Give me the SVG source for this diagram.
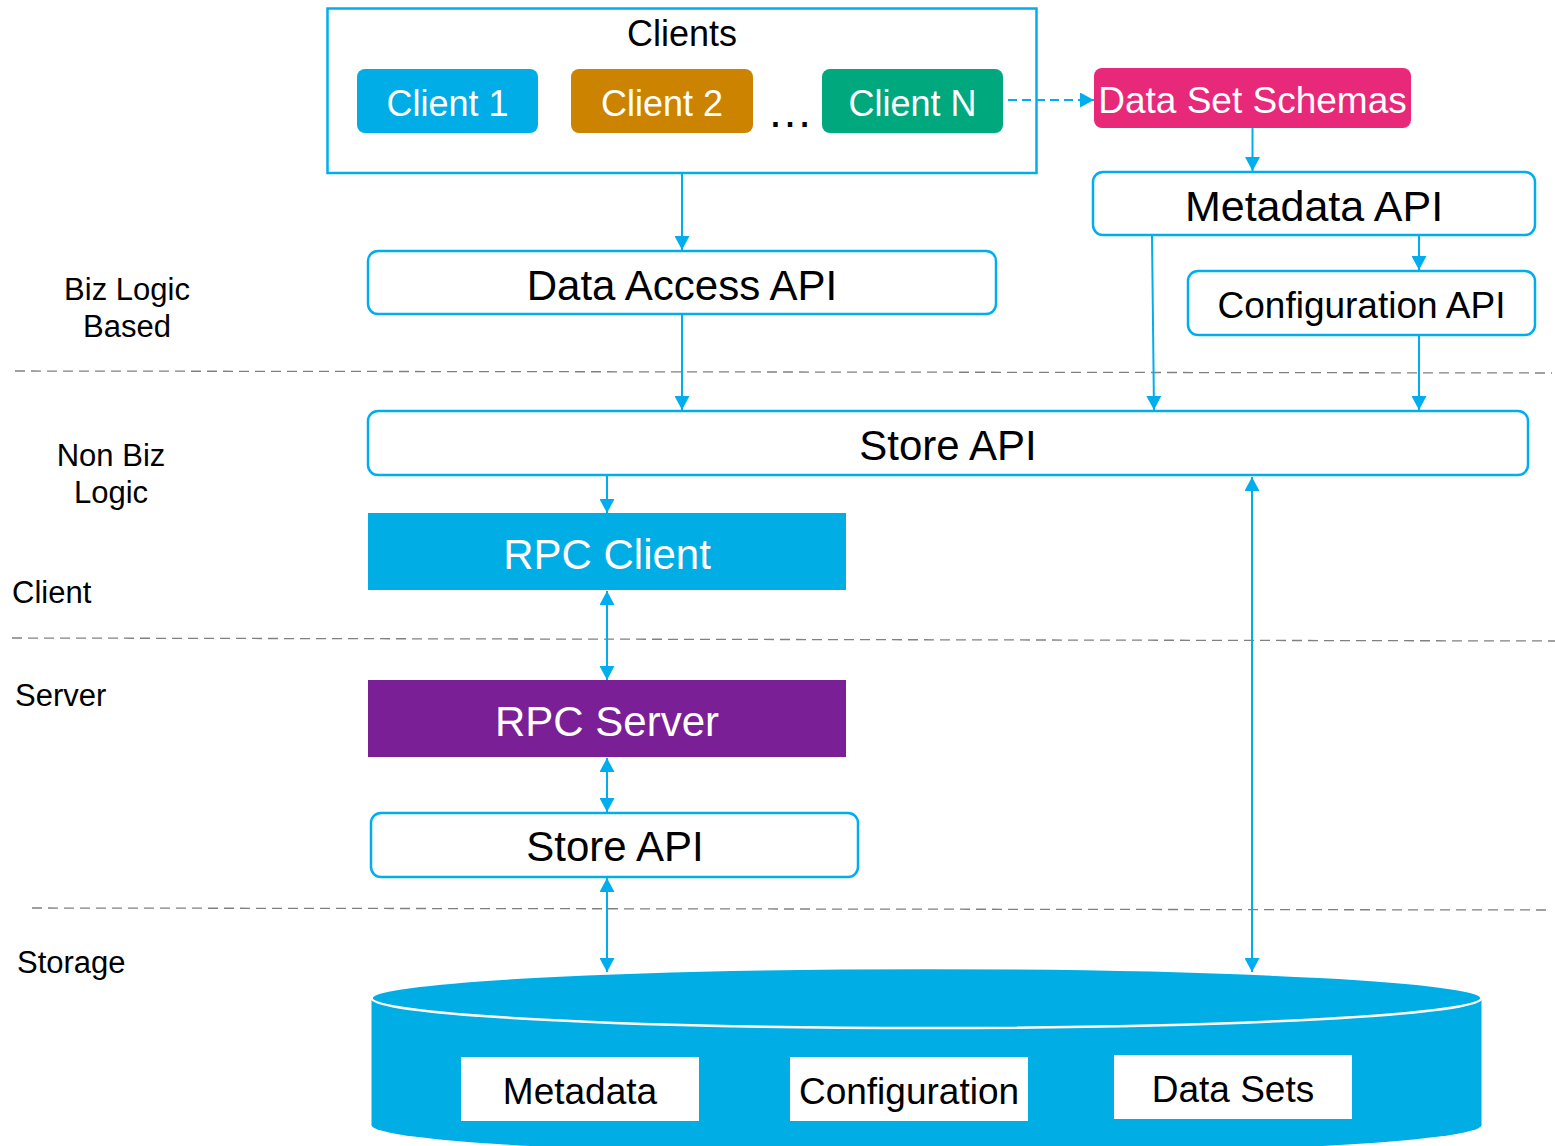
<svg xmlns="http://www.w3.org/2000/svg" width="1555" height="1146" viewBox="0 0 1555 1146">
  <style>
    text { font-family: "Liberation Sans", Arial, sans-serif; }
    .lbl { font-size: 31px; fill: #000; }
    .api { fill: #fff; stroke: #00AEEF; stroke-width: 2.5; }
    .api-t { font-size: 42px; fill: #000; text-anchor: middle; }
    .chip-t { font-size: 36px; fill: #fff; text-anchor: middle; }
    .bar-t { font-size: 42px; fill: #fff; text-anchor: middle; }
    .sep { stroke: #808080; stroke-width: 1.3; stroke-dasharray: 10 6; fill: none; }
    .link { stroke: #00AEEF; stroke-width: 2; fill: none; }
    .one { marker-end: url(#arrow); }
    .two { marker-start: url(#arrow); marker-end: url(#arrow); }
    .dash { stroke-dasharray: 9 5; }
    .store-t { font-size: 37px; fill: #000; text-anchor: middle; }
  </style>
  <defs>
    <marker id="arrow" viewBox="0 0 14 15" refX="14" refY="7.5" markerWidth="14" markerHeight="15" markerUnits="userSpaceOnUse" orient="auto-start-reverse">
      <path d="M0,0 L14,7.5 L0,15 Z" fill="#00AEEF"/>
    </marker>
  </defs>

  <rect width="1555" height="1146" fill="#fff"/>

  <!-- layer separators -->
  <g id="separators">
    <line class="sep" x1="15" y1="371" x2="1552" y2="373"/>
    <line class="sep" x1="12" y1="638" x2="1555" y2="641"/>
    <line class="sep" x1="32" y1="908" x2="1552" y2="910"/>
  </g>

  <!-- layer labels -->
  <g id="layer-labels">
    <text class="lbl" x="127" y="300" text-anchor="middle">Biz Logic</text>
    <text class="lbl" x="127" y="337" text-anchor="middle">Based</text>
    <text class="lbl" x="111" y="466" text-anchor="middle">Non Biz</text>
    <text class="lbl" x="111" y="503" text-anchor="middle">Logic</text>
    <text class="lbl" x="12" y="603">Client</text>
    <text class="lbl" x="15" y="706">Server</text>
    <text class="lbl" x="17" y="973">Storage</text>
  </g>

  <!-- clients group -->
  <g id="clients">
    <rect x="327.5" y="8.5" width="709" height="164.5" fill="#fff" stroke="#00AEEF" stroke-width="2.5"/>
    <text x="682" y="46" font-size="36" text-anchor="middle" fill="#000">Clients</text>
    <g id="client-1">
      <rect x="357" y="69" width="181" height="64" rx="8" fill="#00ADE6"/>
      <text class="chip-t" x="447.5" y="116">Client 1</text>
    </g>
    <g id="client-2">
      <rect x="571" y="69" width="182" height="64" rx="8" fill="#CC8400"/>
      <text class="chip-t" x="662" y="116">Client 2</text>
    </g>
    <text x="790" y="127" font-size="46" text-anchor="middle" fill="#000">…</text>
    <g id="client-n">
      <rect x="822" y="69" width="181" height="64" rx="8" fill="#00A87E"/>
      <text class="chip-t" x="912.5" y="116">Client N</text>
    </g>
  </g>

  <g id="data-set-schemas">
    <rect x="1094" y="68" width="317" height="60" rx="8" fill="#E8297A"/>
    <text x="1252.5" y="113" font-size="37" text-anchor="middle" fill="#fff">Data Set Schemas</text>
  </g>

  <g id="metadata-api">
    <rect class="api" x="1093" y="172" width="442" height="63" rx="10"/>
    <text class="api-t" x="1314" y="221" style="font-size:43px">Metadata API</text>
  </g>

  <g id="configuration-api">
    <rect class="api" x="1188" y="271" width="347" height="64" rx="10"/>
    <text class="api-t" x="1361.5" y="318" style="font-size:37px">Configuration API</text>
  </g>

  <g id="data-access-api">
    <rect class="api" x="368" y="251" width="628" height="63" rx="10"/>
    <text class="api-t" x="682" y="300">Data Access API</text>
  </g>

  <g id="store-api-client">
    <rect class="api" x="368" y="411" width="1160" height="64" rx="10"/>
    <text class="api-t" x="948" y="460">Store API</text>
  </g>

  <g id="rpc-client">
    <rect x="368" y="513" width="478" height="77" fill="#00ADE5"/>
    <text class="bar-t" x="607" y="569">RPC Client</text>
  </g>

  <g id="rpc-server">
    <rect x="368" y="680" width="478" height="77" fill="#7A1F96"/>
    <text class="bar-t" x="607" y="736">RPC Server</text>
  </g>

  <g id="store-api-server">
    <rect class="api" x="371" y="813" width="487" height="64" rx="10"/>
    <text class="api-t" x="615" y="861">Store API</text>
  </g>

  <!-- storage cylinder -->
  <g id="storage">
    <ellipse cx="926.5" cy="1125" rx="555" ry="30" fill="#00ADE5"/>
    <rect x="371.5" y="998" width="1110" height="127" fill="#00ADE5"/>
    <ellipse cx="926.5" cy="998" rx="555" ry="30" fill="#00ADE5" stroke="#fff" stroke-width="2.5"/>
    <g id="store-metadata">
      <rect x="461" y="1057" width="238" height="64" fill="#fff"/>
      <text class="store-t" x="580" y="1104">Metadata</text>
    </g>
    <g id="store-configuration">
      <rect x="790" y="1057" width="238" height="64" fill="#fff"/>
      <text class="store-t" x="909" y="1104">Configuration</text>
    </g>
    <g id="store-data-sets">
      <rect x="1114" y="1055" width="238" height="64" fill="#fff"/>
      <text class="store-t" x="1233" y="1102">Data Sets</text>
    </g>
  </g>

  <!-- connectors -->
  <g id="connectors">
    <line class="link one dash" x1="1008" y1="100" x2="1094" y2="100"/>
    <line class="link one" x1="1252.5" y1="128" x2="1252.5" y2="171"/>
    <line class="link one" x1="1419" y1="236" x2="1419" y2="270"/>
    <line class="link one" x1="1152" y1="236" x2="1154" y2="410"/>
    <line class="link one" x1="1419" y1="336" x2="1419" y2="410"/>
    <line class="link one" x1="682" y1="174" x2="682" y2="250"/>
    <line class="link one" x1="682" y1="315" x2="682" y2="410"/>
    <line class="link one" x1="607" y1="476" x2="607" y2="513"/>
    <line class="link two" x1="607" y1="591" x2="607" y2="680"/>
    <line class="link two" x1="607" y1="758" x2="607" y2="812"/>
    <line class="link two" x1="607" y1="878" x2="607" y2="972"/>
    <line class="link two" x1="1252" y1="477" x2="1252" y2="972"/>
  </g>
</svg>
